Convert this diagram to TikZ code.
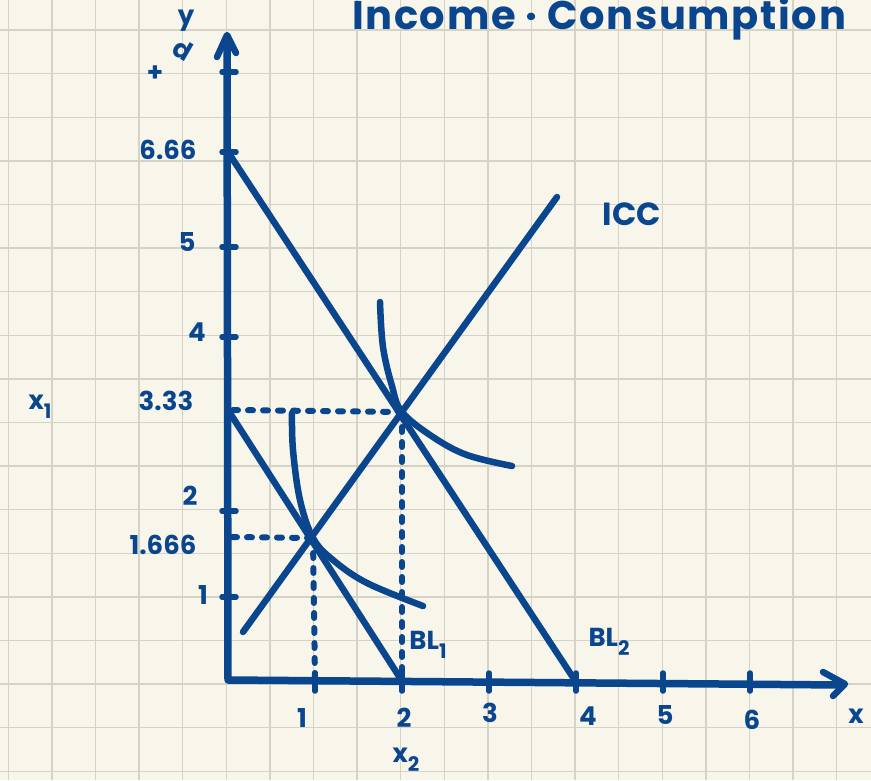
\documentclass[tikz,border=0pt]{standalone}
\usepackage{fontspec}
\setmainfont{Poppins}
\definecolor{ink}{RGB}{9,70,142}
\definecolor{paper}{RGB}{248,246,234}
\definecolor{gridc}{RGB}{214,211,198}
\newcommand{\lowsub}[1]{\raisebox{-9pt}{\fontsize{20}{20}\selectfont #1}}
\begin{document}
\begin{tikzpicture}[x=1pt,y=-1pt,
  pen/.style={draw=ink,line width=6.5pt,line cap=round,line join=round},
  axis/.style={draw=ink,line width=7.5pt,line cap=round,line join=round},
  dots/.style={draw=ink,line width=6pt,line cap=round,dash pattern=on 5pt off 10pt},
  lbl/.style={text=ink,font=\fontsize{26}{26}\selectfont\bfseries,inner sep=0pt},
  big/.style={text=ink,font=\fontsize{40}{40}\selectfont\bfseries\addfontfeature{LetterSpace=4},inner sep=0pt,anchor=base west}]
\fill[paper] (0,0) rectangle (871,780);
\useasboundingbox (0,0) rectangle (871,780);
\clip (0,0) rectangle (871,780);
\foreach \i in {0,...,19} {\draw[gridc,line width=1.4pt] ({8.3+43.6*\i},0) -- ({8.3+43.6*\i},780);}
\foreach \j in {0,...,17} {\draw[gridc,line width=1.4pt] (0,{30+43.6*\j}) -- (871,{30+43.6*\j});}
% key points
\coordinate (O) at (228,680);
\coordinate (ytop) at (227,37);
\coordinate (xend) at (843,685);
\coordinate (A) at (313,538);
\coordinate (B) at (402,412);
\coordinate (bl1a) at (228,410);
\coordinate (bl1b) at (402,681);
\coordinate (bl2a) at (228,152);
\coordinate (bl2b) at (576,682);
\coordinate (icca) at (243,632);
\coordinate (iccb) at (557,197);
\coordinate (yA) at (232,537);
\coordinate (yB) at (233,410);
\coordinate (xA) at (315,680);
\coordinate (xB) at (402,680);
% axes
\draw[axis] (ytop) -- (O) -- (xend);
\draw[pen] (217,57) -- (227,35) -- (236,53);
\draw[pen] (823,672) -- (845,684) -- (833,696);
% ticks
\foreach \y in {72,152,247,337,511,597} {\draw[pen,line width=5.5pt] (222,\y) -- (236,\y);}
\foreach \x in {315,402,489,576,663,750} {\draw[pen,line width=5.5pt] (\x,673) -- (\x,691);}
% dotted guides
\draw[dots] (yB) -- (B);
\draw[dots] (yA) -- (A);
\draw[dots] (B) -- (xB);
\draw[dots] (A) -- (xA);
% lines
\draw[pen] (bl1a) -- (bl1b);
\draw[pen] (bl2a) -- (bl2b);
\draw[pen] (icca) -- (iccb);
% indifference curves
\draw[pen] plot[smooth,tension=0.6] coordinates {(292,413) (293,450) (300,500) (A) (333,560) (367,583) (423,606)};
\draw[pen] plot[smooth,tension=0.6] coordinates {(380,302) (383,347) (392,386) (B) (433,437) (467,455) (512,466)};
% labels
\node[big] (title) at (352,29) {Income · Consumption};
\node[lbl] (ylab) at (186,21) {y};
\node[lbl] (yplus) at (155,74) {+};
\node[lbl,rotate=-30] (yd) at (183,50) {d};
\node[lbl] (l666) at (168,150) {6.66};
\node[lbl] (l5) at (187,242) {5};
\node[lbl] (l4) at (197,332) {4};
\node[lbl] (x1) at (40,407) {x\lowsub{1}};
\node[lbl] (l333) at (166,401) {3.33};
\node[lbl] (l2) at (190,496) {2};
\node[lbl] (l1666) at (163,545) {1.666};
\node[lbl] (l1) at (203,595) {1};
\node[lbl,font=\fontsize{32}{32}\selectfont\bfseries] (icc) at (632,214) {ICC};
\node[lbl] (bl1) at (428,645) {BL\lowsub{1}};
\node[lbl] (bl2) at (609,642) {BL\lowsub{2}};
\node[lbl] (xt1) at (302,718) {1};
\node[lbl] (xt2) at (404,718) {2};
\node[lbl] (xt3) at (490,713) {3};
\node[lbl] (xt4) at (588,716) {4};
\node[lbl] (xt5) at (665,715) {5};
\node[lbl] (xt6) at (752,720) {6};
\node[lbl] (xlab) at (856,716) {x};
\node[lbl] (x2) at (406,760) {x\lowsub{2}};
\end{tikzpicture}
\end{document}
